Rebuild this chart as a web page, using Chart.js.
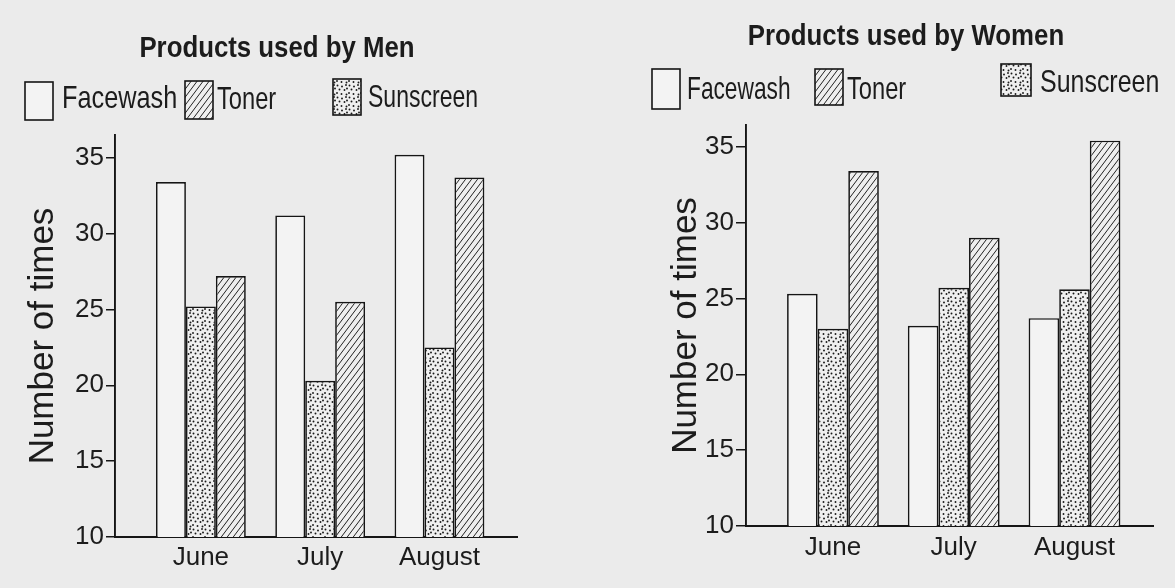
<!DOCTYPE html>
<html>
<head>
<meta charset="utf-8">
<script src="https://cdn.jsdelivr.net/npm/chart.js@4.4.1/dist/chart.umd.min.js"></script>
<style>
  body { margin: 0; background: #ebebeb; }
  #men { position: absolute; left: 0; top: 0; }
  #women { position: absolute; left: 590px; top: 0; }
</style>
</head>
<body>
<canvas id="men" width="590" height="588"></canvas>
<canvas id="women" width="585" height="588"></canvas>
<script>
// months on the x axis, bar order inside a month, legend order
var months = ['June', 'July', 'August'];
var products = ['Facewash', 'Sunscreen', 'Toner'];
var legendOrder = ['Facewash', 'Toner', 'Sunscreen'];
var yTicks = [10, 15, 20, 25, 30, 35];

var menFacewash = [33.4, 31.2, 35.2];
var menSunscreen = [25.2, 20.3, 22.5];
var menToner = [27.2, 25.5, 33.7];

var womenFacewash = [25.3, 23.2, 23.7];
var womenSunscreen = [23.0, 25.7, 25.6];
var womenToner = [33.4, 29.0, 35.4];

var sans = "'Liberation Sans', Arial, sans-serif";
var ink = '#1c1c1c';

function dotPattern() {
    var c = document.createElement('canvas');
    c.width = 12; c.height = 12;
    var g = c.getContext('2d');
    g.fillStyle = '#efefef';
    g.fillRect(0, 0, 12, 12);
    g.fillStyle = '#1a1a1a';
    var spots = [[1.5, 1.5], [6, 2.5], [10, 1], [3.5, 5.5], [8.5, 6], [1, 9], [5.5, 10], [10.5, 10.5], [11, 4.5]];
    spots.forEach(function (p) {
        g.beginPath();
        g.arc(p[0], p[1], 0.95, 0, Math.PI * 2);
        g.fill();
    });
    return g.createPattern(c, 'repeat');
}

function hatchPattern() {
    var c = document.createElement('canvas');
    c.width = 6; c.height = 8;
    var g = c.getContext('2d');
    g.fillStyle = '#efefef';
    g.fillRect(0, 0, 6, 8);
    g.strokeStyle = '#222';
    g.lineWidth = 1;
    for (var k = -1; k <= 1; k++) {
        g.beginPath();
        g.moveTo(k * 6, 8);
        g.lineTo(k * 6 + 6, 0);
        g.stroke();
    }
    return g.createPattern(c, 'repeat');
}

var fills = {
    Facewash: '#f3f3f3',
    Sunscreen: dotPattern(),
    Toner: hatchPattern()
};

function points(values) {
    return values.map(function (v, i) { return { x: i, y: v }; });
}

// narrow text: the printed figure uses a condensed face
function squeezedText(ctx, text, x, y, sx, align) {
    ctx.save();
    ctx.translate(x, y);
    ctx.scale(sx, 1);
    ctx.textAlign = align;
    ctx.fillText(text, 0, 0);
    ctx.restore();
}

// title + legend drawn at the spots they sit in the printed figure
var header = {
    id: 'sheetHeader',
    afterDraw: function (chart, args, o) {
        var ctx = chart.ctx;
        ctx.save();
        ctx.fillStyle = ink;
        ctx.textBaseline = 'alphabetic';
        ctx.font = 'bold 30px ' + sans;
        squeezedText(ctx, o.title, o.titleX, o.titleY, 0.86, 'center');
        ctx.font = '32px ' + sans;
        o.items.forEach(function (it, i) {
            var name = legendOrder[i];
            ctx.fillStyle = fills[name];
            ctx.fillRect(it.x, it.y, it.w, it.h);
            ctx.strokeStyle = '#151515';
            ctx.lineWidth = 1.6;
            ctx.strokeRect(it.x, it.y, it.w, it.h);
            ctx.fillStyle = ink;
            squeezedText(ctx, name, it.tx, it.ty, it.sx, 'left');
        });
        ctx.restore();
    }
};

function makeChart(id, series, o) {
    return new Chart(document.getElementById(id), {
        type: 'bar',
        data: {
            datasets: products.map(function (name, i) {
                return {
                    label: name,
                    data: points(series[i]),
                    backgroundColor: fills[name],
                    borderColor: '#151515',
                    borderWidth: 1.7,
                    categoryPercentage: o.catPct,
                    barPercentage: 1
                };
            })
        },
        options: {
            responsive: false,
            animation: false,
            layout: { padding: { left: 0, right: o.right, top: o.top, bottom: 0 } },
            plugins: {
                legend: { display: false },
                tooltip: { enabled: false },
                sheetHeader: o.header
            },
            scales: {
                x: {
                    type: 'linear',
                    offset: false,
                    min: -0.72,
                    max: 2.65,
                    afterBuildTicks: function (s) {
                        s.ticks = months.map(function (m, i) { return { value: i }; });
                    },
                    afterFit: function (s) { s.height = o.xHeight; },
                    grid: { display: false },
                    border: { display: true, color: '#151515', width: 1.9 },
                    ticks: {
                        callback: function (v) { return months[v]; },
                        font: { family: sans, size: 26 },
                        color: ink,
                        padding: o.xPad,
                        maxRotation: 0,
                        autoSkip: false
                    }
                },
                y: {
                    min: 10,
                    max: o.yMax,
                    afterBuildTicks: function (s) {
                        s.ticks = yTicks.map(function (v) { return { value: v }; });
                    },
                    afterFit: function (s) { s.width = o.yWidth; },
                    grid: { drawOnChartArea: false, color: '#151515', lineWidth: 1.5, tickLength: o.tick },
                    border: { display: true, color: '#151515', width: 1.9 },
                    ticks: {
                        font: { family: sans, size: 26 },
                        color: ink,
                        padding: 2
                    },
                    title: {
                        display: true,
                        text: 'Number of times',
                        font: { family: sans, size: 35 },
                        color: ink,
                        padding: { top: o.titlePad, bottom: 0 }
                    }
                }
            }
        },
        plugins: [header]
    });
}

makeChart('men', [menFacewash, menSunscreen, menToner], {
    catPct: 0.753, right: 73, top: 135, xHeight: 51, xPad: -3, yMax: 36.5, yWidth: 115, tick: 9, titlePad: 22,
    header: {
        title: 'Products used by Men', titleX: 277, titleY: 57,
        items: [
            { x: 25, y: 82, w: 28, h: 38, tx: 62, ty: 108, sx: 0.79 },
            { x: 185, y: 81, w: 28, h: 38, tx: 217, ty: 109, sx: 0.74 },
            { x: 333, y: 79, w: 28, h: 36, tx: 368, ty: 107, sx: 0.72 }
        ]
    }
});

makeChart('women', [womenFacewash, womenSunscreen, womenToner], {
    catPct: 0.76, right: 22, top: 125, xHeight: 62, xPad: -2, yMax: 36.43, yWidth: 156, tick: 10, titlePad: 75,
    header: {
        title: 'Products used by Women', titleX: 316, titleY: 45,
        items: [
            { x: 62, y: 69, w: 28, h: 40, tx: 97, ty: 99, sx: 0.71 },
            { x: 225, y: 69, w: 28, h: 36, tx: 257, ty: 99, sx: 0.74 },
            { x: 411, y: 64, w: 30, h: 32, tx: 450, ty: 92, sx: 0.78 }
        ]
    }
});
</script>
</body>
</html>
